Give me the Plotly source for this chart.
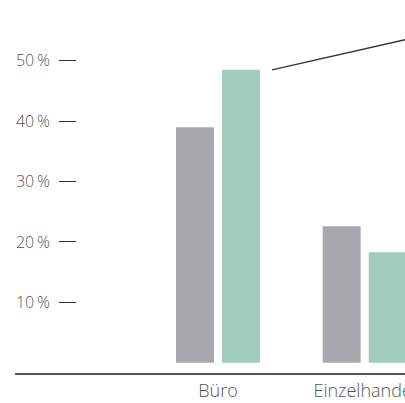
import plotly.graph_objects as go

# Kategorien und Werte (Anteile in Prozent)
kategorien = ["Büro", "Einzelhandel"]
reihe_grau = [39.0, 22.6]
reihe_gruen = [48.5, 18.3]
y_ticks = [10, 20, 30, 40, 50]
y_tick_text = [f"{v}\u2009%" for v in y_ticks]

FARBE_GRAU = "#a7a8ad"
FARBE_GRUEN = "#a1cbba"
TEXT = "#555555"
FONT = "Open Sans"

fig = go.Figure()
fig.add_trace(go.Bar(x=kategorien, y=reihe_grau, name="Reihe 1",
                     marker=dict(color=FARBE_GRAU, line_width=0)))
fig.add_trace(go.Bar(x=kategorien, y=reihe_gruen, name="Reihe 2",
                     marker=dict(color=FARBE_GRUEN, line_width=0)))

# Grundlinie unter den Balken, nach links über die Achse hinaus verlängert
fig.add_shape(type="line", xref="paper", yref="paper",
              x0=-0.189, x1=1.0, y0=0, y1=0,
              line=dict(color="#555555", width=2))

# Hinweislinie vom grünen Büro-Balken nach rechts oben
x_start = 0.368
steigung = 5.48
x_ende = 1.6
fig.add_shape(type="line", xref="x", yref="y",
              x0=x_start, y0=reihe_gruen[0],
              x1=x_ende, y1=reihe_gruen[0] + (x_ende - x_start) * steigung,
              line=dict(color="#333333", width=1.3))

fig.update_layout(
    width=405, height=403,
    margin=dict(l=77, r=0, t=0, b=29),
    paper_bgcolor="white", plot_bgcolor="white",
    barmode="group", bargap=0.373, bargroupgap=0.174,
    showlegend=False,
    font=dict(family=FONT, color=TEXT),
    xaxis=dict(range=[-0.961, 1.275], showline=False, showgrid=False,
               zeroline=False, ticks="", automargin=False,
               ticklabelstandoff=4, tickfont=dict(size=18, weight=300)),
    yaxis=dict(range=[-1.87, 60.05], tickvals=y_ticks, ticktext=y_tick_text,
               showgrid=False, zeroline=False, showline=False, automargin=False,
               ticks="outside", ticklen=17, tickwidth=1.4, tickcolor="#333333",
               ticklabelstandoff=6, tickfont=dict(size=16, weight=300)),
)

fig.write_html("out.html")
